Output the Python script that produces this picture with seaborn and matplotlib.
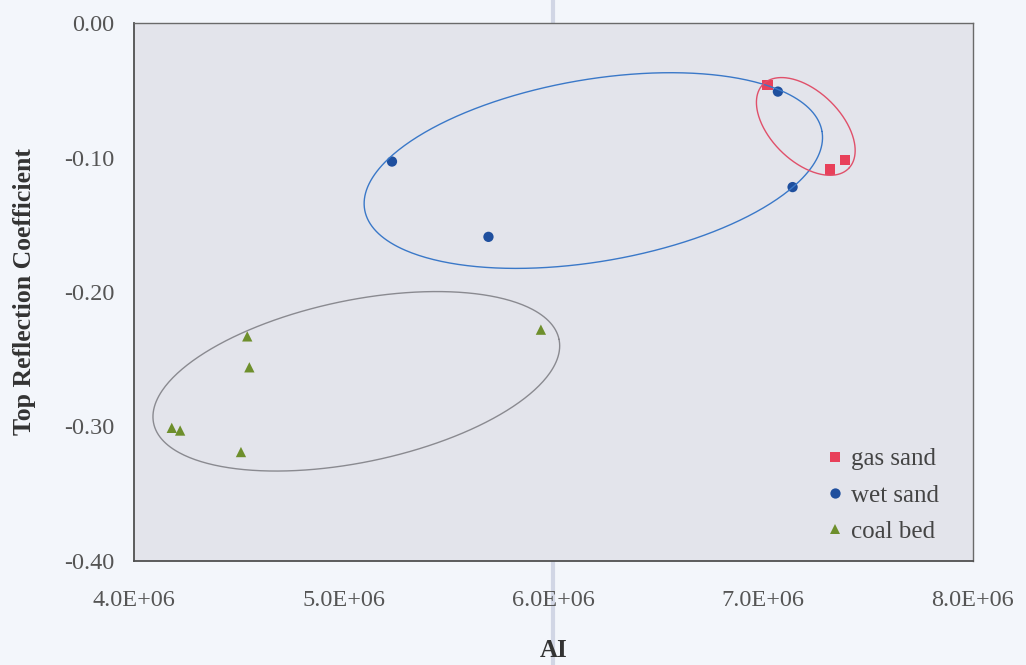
import numpy as np
import pandas as pd
import matplotlib
matplotlib.use("Agg")
import matplotlib.pyplot as plt
import seaborn as sns
from matplotlib.lines import Line2D
from matplotlib.ticker import FixedLocator, FuncFormatter

# Acoustic impedance (AI) and top reflection coefficient per facies
gas_ai = [7.02e6, 7.32e6, 7.39e6]
gas_rc = [-0.046, -0.109, -0.102]
wet_ai = [5.23e6, 5.69e6, 7.07e6, 7.14e6]
wet_rc = [-0.103, -0.159, -0.051, -0.122]
coal_ai = [4.54e6, 4.55e6, 4.18e6, 4.22e6, 4.51e6, 5.94e6]
coal_rc = [-0.233, -0.256, -0.301, -0.303, -0.319, -0.228]

facies = ["gas sand", "wet sand", "coal bed"]
x_ticks = [4.0e6, 5.0e6, 6.0e6, 7.0e6, 8.0e6]
y_ticks = [0.00, -0.10, -0.20, -0.30, -0.40]

df = pd.DataFrame({
    "AI": gas_ai + wet_ai + coal_ai,
    "RC": gas_rc + wet_rc + coal_rc,
    "facies": ["gas sand"] * len(gas_ai) + ["wet sand"] * len(wet_ai) + ["coal bed"] * len(coal_ai),
})

colors = {"gas sand": "#e8405a", "wet sand": "#1f4f9e", "coal bed": "#6e8f2c"}
markers = {"gas sand": "s", "wet sand": "o", "coal bed": "^"}

# Cluster outlines: centre (data), semi-axes (pixels), rotation (deg), colour
clusters = [
    {"cx": 6.19e6, "cy": -0.1097, "a": 232, "b": 91, "ang": 9.7, "color": "#3a78c8"},
    {"cx": 7.203e6, "cy": -0.0769, "a": 60, "b": 35, "ang": -44.4, "color": "#e0506a"},
    {"cx": 5.06e6, "cy": -0.2664, "a": 207, "b": 81, "ang": 11.7, "color": "#8a8a90"},
]

sns.set_style("white")
plt.rcParams["font.family"] = ["Liberation Serif", "DejaVu Serif"]

fig = plt.figure(figsize=(10.26, 6.65), dpi=100)
fig.patch.set_facecolor("#f3f6fb")
ax = fig.add_axes([0.1306, 0.1564, 0.8177, 0.8090])
ax.set_facecolor("#e3e4eb")

sns.scatterplot(data=df, x="AI", y="RC", hue="facies", style="facies",
                hue_order=facies, style_order=facies,
                palette=colors, markers=markers, s=55, linewidth=0, ax=ax)

ax.set_xlim(4.0e6, 8.0e6)
ax.set_ylim(-0.40, 0.00)

# Draw the cluster ellipses in display space so their shape follows screen geometry
t = np.linspace(0, 2 * np.pi, 400)
for c in clusters:
    cx, cy = ax.transData.transform((c["cx"], c["cy"]))
    th = np.deg2rad(c["ang"])
    ex = c["a"] * np.cos(t)
    ey = c["b"] * np.sin(t)
    px = cx + ex * np.cos(th) - ey * np.sin(th)
    py = cy + ex * np.sin(th) + ey * np.cos(th)
    pts = ax.transData.inverted().transform(np.column_stack([px, py]))
    ax.plot(pts[:, 0], pts[:, 1], color=c["color"], lw=1.0, zorder=1)

ax.xaxis.set_major_locator(FixedLocator(x_ticks))
ax.yaxis.set_major_locator(FixedLocator(y_ticks))
ax.xaxis.set_major_formatter(FuncFormatter(lambda v, p: f"{v:.1E}"))
ax.yaxis.set_major_formatter(FuncFormatter(lambda v, p: f"{v:.2f}"))
ax.tick_params(axis="both", which="major", direction="out", length=7, width=1.0,
               color="#555555", labelsize=17.5, labelcolor="#555555")
ax.tick_params(axis="y", pad=7)
ax.tick_params(axis="x", pad=14)

for side in ["left", "bottom"]:
    ax.spines[side].set_color("#505050")
    ax.spines[side].set_linewidth(1.3)
for side in ["top", "right"]:
    ax.spines[side].set_color("#6a6a6a")
    ax.spines[side].set_linewidth(1.0)

ax.set_xlabel("AI", fontsize=18, fontweight="bold", color="#333333", labelpad=20)
ax.set_ylabel("Top Reflection Coefficient", fontsize=18.5, fontweight="bold",
              color="#333333", labelpad=20)

handles, labels = ax.get_legend_handles_labels()
leg = ax.legend(handles, labels, loc="lower right", bbox_to_anchor=(0.972, 0.015),
                frameon=False, fontsize=18, handlelength=1.0, handletextpad=0.14,
                labelspacing=0.55, borderaxespad=0, markerscale=1.0)
for txt in leg.get_texts():
    txt.set_color("#444444")

# faint vertical streak across the page
fig.add_artist(Line2D([0.539, 0.539], [0, 1], transform=fig.transFigure,
                      color="#c9cee0", lw=3, alpha=0.8, zorder=0))

fig.savefig("out.png", dpi=100, facecolor=fig.get_facecolor())
